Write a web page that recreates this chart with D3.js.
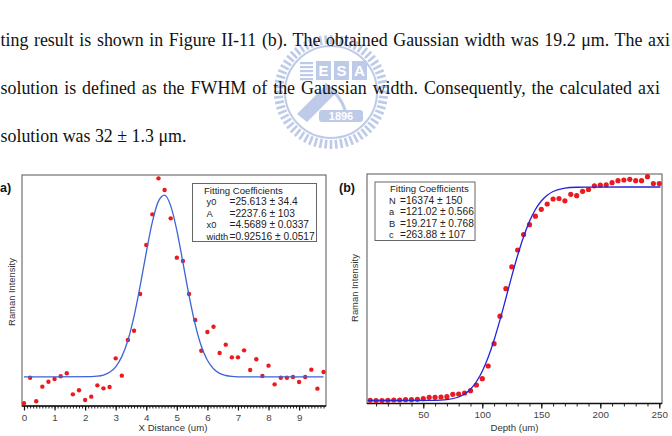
<!DOCTYPE html>
<html>
<head>
<meta charset="utf-8">
<script src="https://cdn.jsdelivr.net/npm/d3@7"></script>
<style>
  body { margin: 0; background: #fff; }
  svg { display: block; }
</style>
</head>
<body>
<div id="wrapper"></div>
<script>
// page text above the figure (lines are cut at the page edge)
var paragraph = [
  "ting result is shown in Figure II-11 (b). The obtained Gaussian width was 19.2 \u03bcm. The axi",
  "solution is defined as the FWHM of the Gaussian width. Consequently, the calculated axi",
  "solution was 32 \u00b1 1.3 \u03bcm."
];

// (a) lateral profile: measured points and Gaussian fit
var profileX = [0, 0.2, 0.4, 0.6, 0.8, 1.0, 1.2, 1.4, 1.6, 1.8, 2.0, 2.2, 2.4, 2.6, 2.8, 3.0, 3.2, 3.4, 3.6, 3.8,
  4.0, 4.2, 4.4, 4.6, 4.8, 5.0, 5.2, 5.4, 5.6, 5.8, 6.0, 6.2, 6.4, 6.6, 6.8, 7.0, 7.2, 7.4, 7.6, 7.8,
  8.0, 8.2, 8.4, 8.6, 8.8, 9.0, 9.2, 9.4, 9.6, 9.8];
var profileY = [-298, 17, -273, -93, -32, 1, 34, 71, -188, -138, -257, -216, -77, -114, -97, 255, 42, 480, 595, 1046,
  1648, 2025, 2468, 2324, 1976, 1493, 1452, 1046, 726, 349, 579, 644, 321, 423, 267, 267, 353, 112, 243, 38,
  165, -65, 17, 17, 26, -36, 26, 116, -118, 87];
var gaussX = [0, 2.2, 2.4, 2.6, 2.8, 3.0, 3.2, 3.4, 3.6, 3.8, 4.0, 4.2, 4.4, 4.6, 4.8, 5.0, 5.2, 5.4, 5.6, 5.8,
  6.0, 6.2, 6.4, 6.6, 6.8, 7.0, 9.8];
var gaussY = [26, 29, 35, 50, 83, 151, 276, 478, 771, 1145, 1556, 1932, 2188, 2261, 2129, 1829, 1433, 1026, 673, 406,
  231, 127, 70, 44, 32, 28, 26];
var gaussCoef = ["y0", "A", "x0", "width"];
var gaussVal = ["=25.613 \u00b1 34.4", "=2237.6 \u00b1 103", "=4.5689 \u00b1 0.0337", "=0.92516 \u00b1 0.0517"];
var xTicksA = [0, 1, 2, 3, 4, 5, 6, 7, 8, 9];

// (b) depth profile: measured points and error-function fit
var depthX = [5, 10, 15, 20, 25, 30, 35, 40, 45, 50, 55, 60, 65, 70, 75, 80, 85, 90, 95, 100,
  105, 110, 115, 120, 125, 130, 135, 140, 145, 150, 155, 160, 165, 170, 175, 180, 185, 190, 195, 200,
  205, 210, 215, 220, 225, 230, 235, 240, 245, 250];
var depthY = [279, 249, 249, 279, 302, 302, 325, 325, 356, 402, 509, 509, 532, 555, 740, 762, 839, 1016, 1453, 1936,
  2910, 4620, 6730, 8839, 10519, 11807, 12996, 13748, 14400, 14929, 15336, 15719, 15757, 15581, 16080, 15972, 16310, 16448, 16731, 16778,
  16808, 16969, 17123, 17176, 17230, 17123, 17123, 17429, 16908, 16908];
var fitX = [3, 60, 70, 80, 85, 90, 95, 100, 105, 110, 115, 120, 125, 130, 135, 140, 145, 150, 155, 160, 170, 180, 190, 251];
var fitY = [264, 276, 328, 533, 762, 1132, 1703, 2507, 3578, 4903, 6442, 8107, 9802, 11405, 12823, 14002, 14909, 15565, 16009, 16291, 16550, 16620, 16636, 16638];
var fitCoef = ["N", "a", "B", "c"];
var fitVal = ["=16374 \u00b1 150", "=121.02 \u00b1 0.566", "=19.217 \u00b1 0.768", "=263.88 \u00b1 107"];
var xTicksB = [50, 100, 150, 200, 250];

var W = 672, H = 436;
var sans = "'Liberation Sans', Arial, sans-serif";
var serif = "'Liberation Serif', 'Times New Roman', serif";

var svg = d3.select("#wrapper")
  .append("svg")
  .attr("width", W)
  .attr("height", H);

// watermark seal behind the text
var seal = svg.append("g")
  .attr("transform", "translate(331,92)")
  .attr("opacity", 0.5);
var sealBlue = "#7f98d2";
seal.selectAll("line.tooth")
  .data(d3.range(64))
  .enter()
  .append("line")
  .attr("x1", d => 48 * Math.cos(d / 64 * 2 * Math.PI))
  .attr("y1", d => 48 * Math.sin(d / 64 * 2 * Math.PI))
  .attr("x2", d => 57 * Math.cos(d / 64 * 2 * Math.PI))
  .attr("y2", d => 57 * Math.sin(d / 64 * 2 * Math.PI))
  .attr("stroke", sealBlue)
  .attr("stroke-width", 2.6);
seal.append("circle")
  .attr("r", 46)
  .attr("fill", "none")
  .attr("stroke", sealBlue)
  .attr("stroke-width", 2);
// building block with stacked bars
seal.selectAll("rect.bar")
  .data(d3.range(5))
  .enter()
  .append("rect")
  .attr("x", -31)
  .attr("y", d => -30 + d * 4)
  .attr("width", 13)
  .attr("height", 2.2)
  .attr("fill", sealBlue);
seal.selectAll("rect.box")
  .data(["E", "S", "A"])
  .enter()
  .append("rect")
  .attr("x", (d, i) => -15 + i * 18)
  .attr("y", -31)
  .attr("width", 15)
  .attr("height", 19)
  .attr("fill", sealBlue);
seal.selectAll("text.letter")
  .data(["E", "S", "A"])
  .enter()
  .append("text")
  .attr("x", (d, i) => -7.5 + i * 18)
  .attr("y", -16)
  .attr("text-anchor", "middle")
  .attr("fill", "#fff")
  .style("font", "bold 15px " + sans)
  .text(d => d);
seal.append("path")
  .attr("d", "M-34,22 L-4,-8 L6,0 L-24,30 Z")
  .attr("fill", sealBlue);
seal.append("path")
  .attr("d", "M-6,-8 Q10,4 14,18")
  .attr("fill", "none")
  .attr("stroke", sealBlue)
  .attr("stroke-width", 3);
seal.append("rect")
  .attr("x", -12)
  .attr("y", 18)
  .attr("width", 44)
  .attr("height", 12)
  .attr("rx", 3)
  .attr("fill", sealBlue);
seal.append("text")
  .attr("x", 10)
  .attr("y", 28)
  .attr("text-anchor", "middle")
  .attr("fill", "#fff")
  .style("font", "bold 11px " + sans)
  .text("1896");

// paragraph lines, justified so the last word lands where the scan puts it
var lastWordAt = [648, 638, null];
svg.selectAll("text.para")
  .data(paragraph)
  .enter()
  .append("text")
  .attr("class", "para")
  .attr("x", 0.5)
  .attr("y", (d, i) => 46 + i * 47.8)
  .attr("fill", "#111")
  .style("font-family", serif)
  .style("font-size", "17.9px")
  .text(d => d)
  .each(function (d, i) {
    if (!lastWordAt[i]) return;
    var k = d.lastIndexOf(" ") + 1;
    var natural = this.getStartPositionOfChar(k).x;
    var gaps = d.split(" ").length - 1;
    d3.select(this).style("word-spacing", ((lastWordAt[i] - natural) / gaps) + "px");
  });

// one framed panel with a bottom axis only
function drawPanel(opt) {
  var g = svg.append("g");
  var x = d3.scaleLinear().domain(opt.xDomain).range([opt.left, opt.right]);
  var y = d3.scaleLinear().domain(opt.yDomain).range([opt.bottom, opt.top]);

  g.append("rect")
    .attr("x", opt.left)
    .attr("y", opt.top)
    .attr("width", opt.right - opt.left)
    .attr("height", opt.bottom - opt.top)
    .attr("fill", "none")
    .attr("stroke", "#555")
    .attr("stroke-width", 1);

  // minor ticks
  g.append("g")
    .attr("transform", "translate(0," + opt.bottom + ")")
    .call(d3.axisBottom(x).tickValues(opt.minor).tickSize(opt.minorLen).tickFormat(""))
    .call(a => a.select(".domain").remove())
    .call(a => a.selectAll("line").attr("stroke", "#222"));

  // major ticks and labels
  g.append("g")
    .attr("transform", "translate(0," + opt.bottom + ")")
    .call(d3.axisBottom(x).tickValues(opt.major).tickSize(opt.majorLen).tickPadding(opt.pad).tickFormat(d3.format("d")))
    .call(a => a.select(".domain").remove())
    .call(a => a.selectAll("line").attr("stroke", "#111").attr("stroke-width", 1.2))
    .call(a => a.selectAll("text").attr("fill", "#444").style("font-family", sans).style("font-size", "9.8px"));

  g.append("line")
    .attr("x1", opt.left)
    .attr("x2", opt.right)
    .attr("y1", opt.bottom)
    .attr("y2", opt.bottom)
    .attr("stroke", "#111")
    .attr("stroke-width", 1.5);

  g.append("text")
    .attr("x", (opt.left + opt.right) / 2 + opt.titleShift)
    .attr("y", opt.titleY)
    .attr("text-anchor", "middle")
    .attr("fill", "#333")
    .style("font-family", sans)
    .style("font-size", "9.6px")
    .text(opt.xTitle);

  g.append("text")
    .attr("transform", "translate(" + opt.yTitleX + "," + opt.yTitleY + ") rotate(-90)")
    .attr("text-anchor", "middle")
    .attr("fill", "#333")
    .style("font-family", sans)
    .style("font-size", "9.4px")
    .text("Raman Intensity");

  // data points, fit line on top
  g.append("g")
    .selectAll("circle")
    .data(opt.px)
    .enter()
    .append("circle")
    .attr("cx", d => x(d))
    .attr("cy", (d, i) => y(opt.py[i]))
    .attr("r", opt.r)
    .attr("fill", "#ea1b1f");

  var line = d3.line()
    .x(d => x(d[0]))
    .y(d => y(d[1]))
    .curve(d3.curveMonotoneX);
  g.append("path")
    .datum(d3.zip(opt.fx, opt.fy))
    .attr("d", line)
    .attr("fill", "none")
    .attr("stroke", opt.lineColor)
    .attr("stroke-width", 1.3);

  // fit coefficient box
  var b = opt.box;
  g.append("rect")
    .attr("x", b.x)
    .attr("y", b.y)
    .attr("width", b.w)
    .attr("height", b.h)
    .attr("fill", "#fff")
    .attr("stroke", "#666")
    .attr("stroke-width", 1);
  g.append("text")
    .attr("x", b.titleX)
    .attr("y", b.y + 10)
    .attr("fill", "#222")
    .style("font-family", sans)
    .style("font-size", "9.6px")
    .text("Fitting Coefficients");
  g.selectAll("text.coef")
    .data(opt.coef)
    .enter()
    .append("text")
    .attr("x", b.nameX)
    .attr("y", (d, i) => b.y + 21.8 + i * 11.4)
    .attr("fill", "#222")
    .style("font-family", sans)
    .style("font-size", "9.3px")
    .text(d => d);
  g.selectAll("text.val")
    .data(opt.vals)
    .enter()
    .append("text")
    .attr("x", b.valX)
    .attr("y", (d, i) => b.y + 21.8 + i * 11.4)
    .attr("fill", "#222")
    .style("font-family", sans)
    .style("font-size", "10.2px")
    .text(d => d);

  g.append("text")
    .attr("x", opt.tagX)
    .attr("y", 191.5)
    .attr("fill", "#111")
    .style("font-family", sans)
    .style("font-weight", "bold")
    .style("font-size", "12.5px")
    .text(opt.tag);
}

drawPanel({
  left: 22, right: 326, top: 175, bottom: 406,
  xDomain: [-0.065, 9.88], yDomain: [-331, 2509],
  major: xTicksA, minor: d3.range(0, 99).map(d => d / 10),
  majorLen: 4.5, minorLen: 2.5, pad: 3.4,
  xTitle: "X Distance (um)", titleShift: -1, titleY: 431,
  yTitleX: 15, yTitleY: 292,
  px: profileX, py: profileY, fx: gaussX, fy: gaussY,
  r: 2.2, lineColor: "#3d63d6",
  coef: gaussCoef, vals: gaussVal,
  box: { x: 192.5, y: 183.5, w: 124, h: 58, titleX: 204, nameX: 206.5, valX: 229.5 },
  tag: "a)", tagX: 0
});

drawPanel({
  left: 367, right: 662, top: 174, bottom: 403.5,
  xDomain: [2.3, 252.3], yDomain: [34, 17635],
  major: xTicksB, minor: d3.range(10, 251, 10),
  majorLen: 5, minorLen: 3, pad: 3,
  xTitle: "Depth (um)", titleShift: 0, titleY: 430.5,
  yTitleX: 358, yTitleY: 288,
  px: depthX, py: depthY, fx: fitX, fy: fitY,
  r: 2.6, lineColor: "#2424d8",
  coef: fitCoef, vals: fitVal,
  box: { x: 375, y: 182, w: 100, h: 58.5, titleX: 390, nameX: 389, valX: 400 },
  tag: "(b)", tagX: 339
});
</script>
</body>
</html>
